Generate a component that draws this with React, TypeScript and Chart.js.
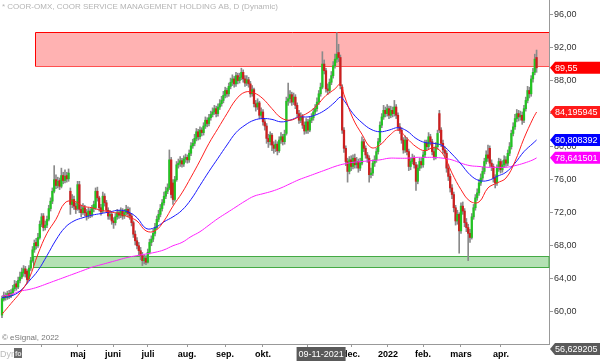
import React, { useEffect, useRef } from "react";
import { Chart, registerables } from "chart.js";
Chart.register(...registerables);

// ---- Daily OHLC (index 0 = first trading day shown) ----
const opens = [
  59.6,61.5,62.0,61.7,62.2,61.9,62.3,62.8,63.4,63.0,
  63.8,64.2,64.7,65.2,64.9,64.0,65.3,66.2,67.5,68.4,
  68.0,69.0,70.6,71.6,70.2,70.5,71.2,72.5,73.4,74.6,
  76.0,75.3,75.9,75.2,76.5,75.9,76.5,76.1,74.6,73.0,
  73.6,72.8,72.5,75.4,72.4,72.0,72.6,72.0,71.6,72.2,
  71.8,72.5,72.6,74.6,73.8,72.6,72.2,74.0,73.2,72.3,
  71.6,71.8,71.0,70.8,71.5,72.0,71.7,72.2,71.6,72.0,
  72.4,71.9,71.6,70.8,69.4,68.6,68.0,67.4,66.8,66.2,
  66.5,66.0,67.2,68.4,68.8,69.5,70.2,71.2,71.8,72.5,
  73.2,74.0,74.6,75.0,78.4,75.6,73.6,76.0,77.8,78.0,
  78.3,77.9,78.5,78.7,78.4,79.2,80.1,80.4,81.0,81.8,
  81.2,82.0,81.7,82.5,83.2,82.8,83.5,83.9,84.2,84.6,
  84.0,84.8,85.2,85.6,86.2,86.8,86.4,87.3,87.8,88.2,
  87.6,88.6,88.0,88.4,89.0,88.2,87.7,88.1,87.6,86.4,
  86.9,85.2,84.8,85.3,83.8,84.2,83.0,82.5,81.0,80.6,
  81.4,80.2,79.8,80.3,79.5,80.8,81.2,80.6,81.6,85.5,
  85.8,86.3,85.4,86.0,85.0,84.0,83.2,83.6,82.6,81.9,
  83.0,82.0,83.2,83.5,84.2,84.6,85.4,86.4,87.2,90.0,
  89.2,87.0,86.8,87.8,88.6,89.8,90.6,91.4,90.8,87.2,
  82.0,79.8,78.2,77.0,78.4,77.6,78.6,77.8,78.2,77.4,
  78.0,80.6,79.8,79.0,78.6,76.6,76.8,78.0,78.4,79.4,
  80.6,82.6,83.6,84.4,84.0,84.6,83.8,84.4,84.0,84.8,
  83.8,82.4,82.0,80.8,79.6,80.8,79.4,77.6,78.2,78.6,
  77.8,75.8,77.4,78.2,77.8,79.0,80.4,80.0,81.2,80.6,
  79.4,78.8,80.0,84.0,82.0,80.4,79.6,79.2,77.4,76.4,
  75.0,74.2,72.6,71.0,71.8,69.8,72.8,72.2,70.8,70.2,
  69.5,69.0,71.5,72.6,73.8,74.4,75.6,76.2,77.0,78.2,
  79.0,79.8,78.0,77.6,76.2,75.6,77.4,78.2,77.2,77.8,
  78.4,78.0,79.2,80.0,81.6,82.4,83.4,84.0,83.6,83.8,
  83.2,84.6,85.6,86.8,86.4,88.2,89.0,90.8
];
const highs = [
  61.9,62.4,62.3,62.5,62.6,62.7,63.2,63.8,63.7,64.2,
  64.8,65.3,65.6,65.5,65.1,65.6,66.6,67.9,68.7,68.9,
  69.5,71.0,71.9,71.9,71.0,71.6,72.9,73.8,75.0,77.7,
  76.6,76.3,76.2,77.4,76.9,77.2,76.9,77.3,75.0,74.2,
  74.0,73.2,75.8,75.8,72.9,73.1,72.9,72.4,72.6,72.5,
  72.9,73.4,75.0,75.1,74.0,73.0,74.5,74.3,73.5,72.6,
  72.3,72.1,71.4,71.9,72.4,72.3,72.6,72.5,72.4,72.9,
  72.7,72.6,71.9,71.0,69.8,69.0,68.4,67.8,67.2,66.9,
  66.8,67.6,68.8,69.2,70.0,70.7,71.6,72.3,73.0,73.6,
  74.5,75.1,75.5,79.6,78.7,76.0,76.4,78.2,78.5,78.8,
  78.6,78.9,79.1,79.0,79.6,80.5,80.9,81.5,82.2,82.1,
  82.4,82.3,82.9,83.6,83.5,83.9,84.3,84.7,85.0,84.9,
  85.2,85.7,86.1,86.7,87.2,87.1,87.7,88.3,88.7,88.5,
  89.0,88.9,88.9,89.5,89.3,88.6,88.6,88.4,87.9,87.4,
  87.1,85.6,85.8,85.5,84.7,84.5,83.4,82.8,81.5,81.8,
  81.6,80.6,80.8,80.6,81.2,81.7,81.5,82.0,86.0,87.7,
  86.8,86.6,86.5,86.3,85.3,84.4,84.1,83.9,83.0,83.4,
  83.3,83.6,84.0,84.6,85.1,85.9,86.8,87.7,91.5,90.5,
  89.5,87.6,88.2,89.1,90.3,91.2,93.8,92.4,91.1,87.5,
  82.3,80.1,78.6,78.8,78.9,79.0,79.1,78.7,78.5,78.6,
  81.2,80.9,80.1,79.3,78.9,77.4,78.4,78.9,79.8,81.0,
  83.0,84.0,85.0,84.8,85.1,84.9,84.9,84.8,85.6,85.1,
  84.1,82.8,82.3,81.1,81.3,81.1,79.7,78.6,79.1,78.9,
  78.1,77.8,78.6,78.6,79.4,80.8,80.8,81.7,81.5,80.9,
  79.8,80.5,82.0,84.4,82.3,80.8,80.0,79.5,77.8,76.7,
  75.4,74.5,72.9,72.3,72.0,73.2,73.3,72.5,71.3,70.6,
  70.0,71.9,73.0,74.2,74.9,76.0,76.7,77.5,78.6,79.5,
  80.2,80.1,78.4,77.9,76.6,77.8,78.6,78.5,78.3,78.9,
  78.8,79.6,80.5,82.0,82.9,83.9,84.5,84.4,84.3,84.2,
  85.0,86.0,87.3,87.2,88.6,89.5,91.2,91.7
];
const lows = [
  59.3,61.3,61.4,61.5,61.6,61.7,62.0,62.5,62.6,62.8,
  63.5,64.0,64.3,64.2,63.5,63.8,65.0,66.0,67.2,67.6,
  67.8,68.8,70.3,69.8,69.9,70.2,71.0,72.2,73.1,74.4,
  74.9,75.0,74.8,75.0,75.5,75.6,75.7,75.8,71.8,72.6,
  72.4,71.9,72.3,72.0,71.5,71.8,71.6,71.1,71.3,71.4,
  71.5,72.1,72.4,73.4,72.2,71.7,72.0,72.8,72.0,71.2,
  71.2,70.6,70.1,70.5,71.2,71.3,71.4,71.2,71.3,71.7,
  71.5,71.2,70.4,69.0,68.1,67.6,66.9,66.3,65.6,65.8,
  65.7,65.9,67.0,68.0,68.5,69.2,70.0,70.9,71.5,72.2,
  72.9,73.7,74.3,74.8,73.8,73.0,73.4,75.8,77.4,77.6,
  77.5,77.6,78.1,78.0,78.1,78.9,79.8,80.1,80.7,80.8,
  80.9,81.3,81.4,82.2,82.4,82.5,83.2,83.6,83.9,83.6,
  83.7,84.5,84.9,85.3,85.9,86.0,86.1,87.0,87.4,87.2,
  87.3,87.6,87.7,88.1,87.8,87.3,87.4,87.2,86.0,86.1,
  84.8,84.3,84.5,83.4,83.4,82.6,82.0,80.4,79.9,80.2,
  79.5,79.2,79.4,79.0,79.3,80.4,80.2,80.3,81.4,85.0,
  85.3,85.0,85.1,84.6,83.6,82.8,82.9,82.2,81.5,81.6,
  81.6,81.8,82.9,83.2,83.9,84.3,85.1,86.1,87.0,88.8,
  86.6,86.3,86.5,87.5,88.3,89.5,90.2,90.3,87.0,81.6,
  79.3,77.7,75.7,76.7,77.1,77.3,77.4,77.4,76.9,77.1,
  77.8,79.4,78.6,78.1,75.7,76.2,76.5,77.6,78.1,79.1,
  80.4,82.3,83.3,83.6,83.7,83.4,83.5,83.6,83.7,83.4,
  82.0,81.6,80.4,79.2,79.3,79.0,77.1,77.2,77.9,77.4,
  74.7,75.5,77.1,77.4,77.5,78.7,79.6,79.7,80.2,79.0,
  78.4,78.5,79.7,81.7,80.0,79.2,78.7,76.9,75.9,74.5,
  73.7,72.1,70.5,70.6,67.1,69.5,71.8,70.3,69.7,66.2,
  68.4,68.8,71.2,72.3,73.5,74.1,75.3,75.9,76.7,77.9,
  78.2,77.6,77.1,75.7,75.0,75.3,77.0,76.8,76.9,77.5,
  77.6,77.7,78.9,79.7,81.3,82.1,83.0,83.1,83.2,82.7,
  82.9,84.3,85.3,85.9,86.1,87.8,88.7,89.0
];
const closes = [
  61.6,62.0,61.8,62.2,61.9,62.3,62.8,63.3,63.0,63.8,
  64.2,64.8,65.2,64.6,63.9,65.3,66.2,67.5,68.3,68.0,
  69.0,70.6,71.5,70.2,70.5,71.2,72.5,73.4,74.6,76.0,
  75.3,75.8,75.2,76.5,75.9,76.4,76.1,76.8,73.0,73.6,
  72.8,72.4,75.4,72.4,72.0,72.6,72.0,71.6,72.2,71.8,
  72.5,73.0,74.6,73.8,72.6,72.1,74.0,73.2,72.3,71.6,
  71.8,71.0,70.8,71.5,72.0,71.7,72.2,71.6,72.0,72.4,
  71.9,71.6,70.8,69.4,68.6,68.0,67.4,66.8,66.2,66.5,
  66.0,67.2,68.4,68.8,69.5,70.2,71.2,71.8,72.5,73.2,
  74.0,74.6,75.0,78.4,74.2,73.6,76.0,77.8,78.0,78.3,
  77.9,78.5,78.7,78.4,79.2,80.1,80.4,81.0,81.8,81.2,
  82.0,81.7,82.5,83.2,82.8,83.5,83.9,84.2,84.6,84.0,
  84.8,85.2,85.6,86.2,86.8,86.4,87.3,87.8,88.2,87.6,
  88.6,88.0,88.4,89.0,88.2,87.7,88.1,87.6,86.4,86.9,
  85.2,84.8,85.3,83.8,84.2,83.0,82.5,81.0,80.6,81.4,
  80.2,79.8,80.3,79.5,80.8,81.2,80.6,81.5,85.5,85.8,
  86.3,85.4,86.0,85.0,84.0,83.2,83.6,82.6,81.9,83.0,
  82.0,83.2,83.5,84.2,84.6,85.4,86.4,87.2,90.0,89.2,
  87.0,86.8,87.8,88.6,89.8,90.6,91.2,90.8,87.4,82.0,
  79.8,78.2,77.0,78.4,77.6,78.6,77.8,78.2,77.4,78.0,
  80.6,79.8,79.0,78.6,76.6,76.8,78.0,78.4,79.4,80.6,
  82.6,83.6,84.4,84.0,84.6,83.8,84.4,84.0,84.8,83.8,
  82.4,82.0,80.8,79.6,80.8,79.4,77.6,78.2,78.6,77.8,
  75.8,77.4,78.2,77.8,79.0,80.4,80.0,81.2,80.6,79.4,
  78.8,80.0,81.6,82.0,80.4,79.6,79.2,77.4,76.4,75.0,
  74.2,72.6,71.0,71.8,69.8,72.8,72.2,70.8,70.2,69.5,
  69.0,71.5,72.6,73.8,74.4,75.6,76.2,77.0,78.2,79.0,
  78.6,78.0,77.6,76.2,75.6,77.4,78.2,77.2,77.8,78.4,
  78.0,79.2,80.0,81.6,82.4,83.4,84.0,83.6,83.8,83.2,
  84.6,85.6,86.8,86.4,88.2,89.0,90.6,89.55
];

// ---- Moving averages (sampled at these candle indices) ----
const maIndex = [
  0,5,10,15,20,25,30,35,40,45,50,55,60,65,70,75,80,85,90,95,
  100,105,110,115,120,125,130,135,140,145,150,155,160,165,170,175,180,185,188,
  190,195,200,205,210,215,220,225,230,235,240,245,250,255,260,265,270,275,280,285,290,295,297
];
const maRed = [
  59.7,61.0,62.3,64.0,67.0,69.5,71.2,73.2,73.4,72.8,72.6,72.3,72.1,71.9,71.5,71.0,69.8,69.8,71.0,72.8,
  74.4,76.3,78.3,80.4,82.2,84.0,85.7,86.6,86.5,85.8,84.6,83.5,83.2,83.6,84.1,85.0,86.2,87.0,87.6,
  86.3,83.4,81.5,79.9,80.2,81.3,82.0,81.0,80.0,79.5,79.9,79.1,76.8,74.8,73.4,73.3,75.0,75.6,76.2,78.2,81.0,83.4,84.195945
];
const maBlue = [
  61.7,61.9,62.5,63.7,65.0,66.8,68.7,70.2,71.0,71.4,71.7,71.9,72.1,72.3,72.1,71.4,70.1,70.2,70.9,71.5,
  72.3,73.6,75.3,77.0,78.6,80.2,81.7,82.6,83.2,83.4,83.3,83.0,83.2,83.6,83.6,83.9,84.5,85.4,86.0,
  85.6,84.0,82.9,82.1,81.8,82.0,82.3,81.9,81.0,80.5,80.4,80.1,79.1,77.9,76.6,75.9,75.9,76.4,76.9,78.0,79.4,80.4,80.808392
];
const maMagenta = [
  61.9,62.1,62.5,62.7,63.0,63.4,63.8,64.2,64.6,65.0,65.4,65.7,66.0,66.3,66.6,66.8,67.0,67.2,67.5,68.0,
  68.4,69.1,69.7,70.5,71.3,72.0,72.7,73.4,74.0,74.3,74.6,75.0,75.5,76.0,76.4,76.8,77.2,77.6,77.8,
  77.9,78.1,78.2,78.3,78.4,78.6,78.6,78.6,78.7,78.7,78.7,78.6,78.4,78.0,77.7,77.6,77.5,77.5,77.5,77.7,78.0,78.4,78.641501
];

// ---- Axes ----
const monthTicks = [22.2, 42.2, 61.7, 81.1, 102.8, 123.9, 145.0, 170.0, 193.9, 214.4, 233.9, 255.0, 277.2];
const monthLabels = ["", "maj", "juni", "juli", "aug.", "sep.", "okt.", "nov.", "dec.", "2022", "feb.", "mars", "apr."];
const yTicks = [60, 64, 68, 72, 76, 80, 84, 88, 92, 96];

// ---- Zones / markers ----
const resistanceZone = [89.75, 93.84];
const supportZone = [65.46, 66.8];
const resistanceStart = 18.3;
const supportStart = 17.2;
const cursorIndex = 177;
const cursorDate = "09-11-2021";
const cursorValue = 56.629205;

const FONT = "Arial, 'Liberation Sans', Helvetica, sans-serif";
const fmt = (v: number, d: number) => v.toFixed(d).replace(".", ",");

export default function App() {
  const ref = useRef<HTMLCanvasElement>(null);

  useEffect(() => {
    if (!ref.current) return;

    const tag = (ctx: CanvasRenderingContext2D, yp: number, text: string, bg: string) => {
      const x0 = 550, h = 12;
      ctx.fillStyle = bg;
      ctx.beginPath();
      ctx.moveTo(x0, yp);
      ctx.lineTo(x0 + 5, yp - h / 2);
      ctx.lineTo(600, yp - h / 2);
      ctx.lineTo(600, yp + h / 2);
      ctx.lineTo(x0 + 5, yp + h / 2);
      ctx.closePath();
      ctx.fill();
      ctx.fillStyle = "#ffffff";
      ctx.font = `9px ${FONT}`;
      ctx.textAlign = "left";
      ctx.textBaseline = "middle";
      ctx.fillText(text, x0 + 5, yp + 0.5);
    };

    const decor = {
      id: "decor",
      beforeDatasetsDraw(chart: any) {
        const { ctx, chartArea: a, scales } = chart;
        const x = scales.x, y = scales.y;
        ctx.save();
        let lx = Math.round(x.getPixelForValue(resistanceStart)) + 0.5;
        let t = Math.round(y.getPixelForValue(resistanceZone[1])) + 0.5;
        let b = Math.round(y.getPixelForValue(resistanceZone[0])) + 0.5;
        ctx.fillStyle = "rgba(255,0,0,0.3)";
        ctx.fillRect(lx, t, a.right - lx, b - t);
        ctx.lineWidth = 1;
        ctx.strokeStyle = "#ff0000";
        ctx.beginPath();
        ctx.moveTo(a.right, t); ctx.lineTo(lx, t); ctx.lineTo(lx, b);
        ctx.stroke();
        ctx.strokeStyle = "#ff5050";
        ctx.beginPath();
        ctx.moveTo(lx, b); ctx.lineTo(a.right, b);
        ctx.stroke();
        lx = Math.round(x.getPixelForValue(supportStart)) + 0.5;
        t = Math.round(y.getPixelForValue(supportZone[1])) + 0.5;
        b = Math.round(y.getPixelForValue(supportZone[0])) + 0.5;
        ctx.fillStyle = "rgba(40,170,40,0.35)";
        ctx.fillRect(lx, t, a.right - lx, b - t);
        ctx.strokeStyle = "#44aa44";
        ctx.strokeRect(lx, t, a.right - lx, b - t);
        ctx.restore();
      },
      afterDraw(chart: any) {
        const { ctx, chartArea: a, scales } = chart;
        const x = scales.x, y = scales.y;
        ctx.save();
        ctx.fillStyle = "#b4b4b4";
        ctx.font = `8px ${FONT}`;
        ctx.textAlign = "left";
        ctx.textBaseline = "middle";
        ctx.fillText("* COOR-OMX, COOR SERVICE MANAGEMENT HOLDING AB, D (Dynamic)", 2, 7);
        ctx.fillStyle = "#777777";
        ctx.fillText("\u00a9 eSignal, 2022", 2, 338);
        ctx.fillStyle = "#bbbbbb";
        ctx.font = `9px ${FONT}`;
        ctx.fillText("Dyn", 0, 355);
        ctx.fillStyle = "#6a6a6a";
        ctx.fillRect(14, 348, 8, 10);
        ctx.fillStyle = "#dddddd";
        ctx.font = `bold 7px ${FONT}`;
        ctx.fillText("fo", 15, 354);
        const cx = x.getPixelForValue(cursorIndex);
        ctx.fillStyle = "#5a5a5a";
        ctx.fillRect(cx - 24, 347, 49, 14);
        ctx.fillStyle = "#ffffff";
        ctx.font = `9px ${FONT}`;
        ctx.textAlign = "center";
        ctx.fillText(cursorDate, cx + 0.5, 354.5);
        tag(ctx, y.getPixelForValue(closes[closes.length - 1]), fmt(closes[closes.length - 1], 2), "#ff0000");
        tag(ctx, y.getPixelForValue(maRed[maRed.length - 1]), fmt(maRed[maRed.length - 1], 6), "#ff1a1a");
        tag(ctx, y.getPixelForValue(maBlue[maBlue.length - 1]), fmt(maBlue[maBlue.length - 1], 6), "#0000ff");
        tag(ctx, y.getPixelForValue(maMagenta[maMagenta.length - 1]), fmt(maMagenta[maMagenta.length - 1], 6), "#ff00ff");
        tag(ctx, a.bottom + 5, fmt(cursorValue, 6), "#5a5a5a");
        ctx.restore();
      },
    };

    const up = "#22c422";
    const down = "#cc1f1f";

    const chart = new Chart(ref.current, {
      type: "bar",
      data: {
        datasets: [
          {
            type: "line",
            label: "MA short",
            data: maIndex.map((v, k) => ({ x: v, y: maRed[k] })),
            borderColor: "#ff2020",
            borderWidth: 1,
            pointRadius: 0,
            tension: 0.4,
            order: 0,
          } as any,
          {
            type: "line",
            label: "MA mid",
            data: maIndex.map((v, k) => ({ x: v, y: maBlue[k] })),
            borderColor: "#1a1aff",
            borderWidth: 1,
            pointRadius: 0,
            tension: 0.4,
            order: 0,
          } as any,
          {
            type: "line",
            label: "MA long",
            data: maIndex.map((v, k) => ({ x: v, y: maMagenta[k] })),
            borderColor: "#ff20ff",
            borderWidth: 1,
            pointRadius: 0,
            tension: 0.4,
            order: 0,
          } as any,
          {
            type: "bar",
            label: "body",
            data: closes.map((c, i) => ({ x: i, y: [opens[i], c] })),
            backgroundColor: closes.map((c, i) => (c >= opens[i] ? up : down)),
            barThickness: 1.6,
            minBarLength: 1,
            grouped: false,
            order: 1,
          } as any,
          {
            type: "bar",
            label: "wick",
            data: closes.map((c, i) => ({ x: i, y: [lows[i], highs[i]] })),
            backgroundColor: "#8a8a8a",
            barThickness: 1,
            grouped: false,
            order: 2,
          } as any,
        ],
      },
      options: {
        responsive: false,
        devicePixelRatio: 1,
        animation: false,
        layout: { padding: 0 },
        plugins: { legend: { display: false }, tooltip: { enabled: false } },
        scales: {
          x: {
            type: "linear",
            min: -1.1,
            max: 303.9,
            offset: false,
            grid: { display: true, drawOnChartArea: false, drawTicks: true, tickLength: 3, color: "#999999", offset: false },
            border: { display: true, color: "#999999" },
            ticks: {
              autoSkip: false,
              maxRotation: 0,
              padding: 2,
              color: "#000000",
              font: { size: 9, weight: "bold", family: FONT },
              callback: (_v: any, idx: number) => monthLabels[idx],
            },
            afterBuildTicks: (s: any) => {
              s.ticks = monthTicks.map((v) => ({ value: v }));
            },
            afterFit: (s: any) => {
              s.height = 17;
              s.paddingLeft = 0;
              s.paddingRight = 0;
            },
          } as any,
          y: {
            type: "linear",
            position: "right",
            min: 56.1,
            max: 97.76,
            grid: { display: true, drawOnChartArea: false, drawTicks: true, tickLength: 4, color: "#999999" },
            border: { display: true, color: "#999999" },
            ticks: {
              autoSkip: false,
              padding: 1,
              color: "#333333",
              font: { size: 9, family: FONT },
              callback: (v: any) => fmt(Number(v), 2),
            },
            afterBuildTicks: (s: any) => {
              s.ticks = yTicks.map((v) => ({ value: v }));
            },
            afterFit: (s: any) => {
              s.width = 51;
              s.paddingTop = 0;
              s.paddingBottom = 0;
            },
          } as any,
        },
      } as any,
      plugins: [decor],
    });

    return () => chart.destroy();
  }, []);

  return (
    <div style={{ position: "fixed", left: 0, top: 0, width: 600, height: 361, background: "#ffffff" }}>
      <canvas ref={ref} width={600} height={361} style={{ display: "block" }} />
    </div>
  );
}
